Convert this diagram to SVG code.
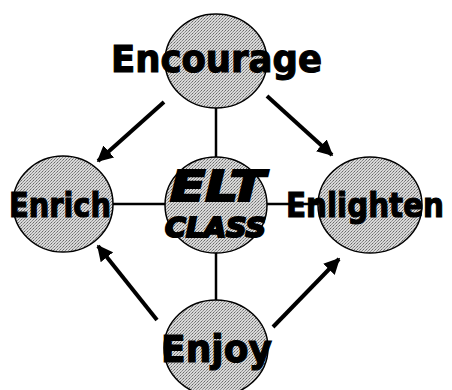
<svg xmlns="http://www.w3.org/2000/svg" width="452" height="390" viewBox="0 0 452 390">
<defs>
<pattern id="stip" width="3" height="3" patternUnits="userSpaceOnUse">
<rect width="3" height="3" fill="#d8d8d8"/>
<rect x="0" y="0" width="1" height="1" fill="#6a6a6a"/>
<rect x="2" y="1" width="1" height="1" fill="#8a8a8a"/>
<rect x="1" y="2" width="1" height="1" fill="#9a9a9a"/>
</pattern>
<marker id="ah" viewBox="0 0 10 10" refX="9" refY="5" markerWidth="4" markerHeight="4" orient="auto" markerUnits="strokeWidth">
<path d="M0,0 L10,5 L0,10 z" fill="#000"/>
</marker>
</defs>
<style>
.node{fill:url(#stip);stroke:#000;stroke-width:1.5}
.lbl{font-family:"DejaVu Sans",Verdana,sans-serif;font-weight:bold;fill:#000;stroke:#000;stroke-width:1.2}
.ctr{font-family:"DejaVu Sans",sans-serif;font-weight:bold;font-style:italic;fill:#000;stroke:#000;stroke-width:2.2}
.ln{stroke:#000;stroke-width:2.5;fill:none}
.ar{stroke:#000;stroke-width:4;fill:none;marker-end:url(#ah)}
</style>
<g id="connectors">
<line class="ln" x1="216" y1="108" x2="216" y2="157"/>
<line class="ln" x1="216" y1="253" x2="216" y2="300"/>
<line class="ln" x1="112" y1="204" x2="166" y2="204"/>
<line class="ln" x1="266" y1="204" x2="318" y2="204"/>
<line class="ar" x1="164" y1="102" x2="98" y2="161"/>
<line class="ar" x1="267" y1="96" x2="332" y2="155"/>
<line class="ar" x1="157" y1="320" x2="98" y2="246"/>
<line class="ar" x1="273" y1="327" x2="339" y2="259"/>
</g>
<g id="encourage">
<ellipse class="node" cx="216" cy="61" rx="51" ry="47"/>
<text class="lbl" x="111" y="72" font-size="38" textLength="211" lengthAdjust="spacingAndGlyphs">Encourage</text>
</g>
<g id="enrich">
<ellipse class="node" cx="63" cy="204" rx="50" ry="48"/>
<text class="lbl" x="9" y="217" font-size="34" textLength="102" lengthAdjust="spacingAndGlyphs">Enrich</text>
</g>
<g id="elt-class">
<ellipse class="node" cx="216" cy="205" rx="51" ry="48"/>
<text class="ctr" x="170" y="201" font-size="42" textLength="95" lengthAdjust="spacingAndGlyphs">ELT</text>
<text class="ctr" x="165" y="237" font-size="27" textLength="101" lengthAdjust="spacingAndGlyphs">CLASS</text>
</g>
<g id="enlighten">
<ellipse class="node" cx="370" cy="205" rx="52" ry="48"/>
<text class="lbl" x="286" y="217" font-size="34" textLength="158" lengthAdjust="spacingAndGlyphs">Enlighten</text>
</g>
<g id="enjoy">
<ellipse class="node" cx="216" cy="348" rx="52" ry="48"/>
<text class="lbl" x="161" y="362" font-size="37" textLength="111" lengthAdjust="spacingAndGlyphs">Enjoy</text>
</g>
</svg>
